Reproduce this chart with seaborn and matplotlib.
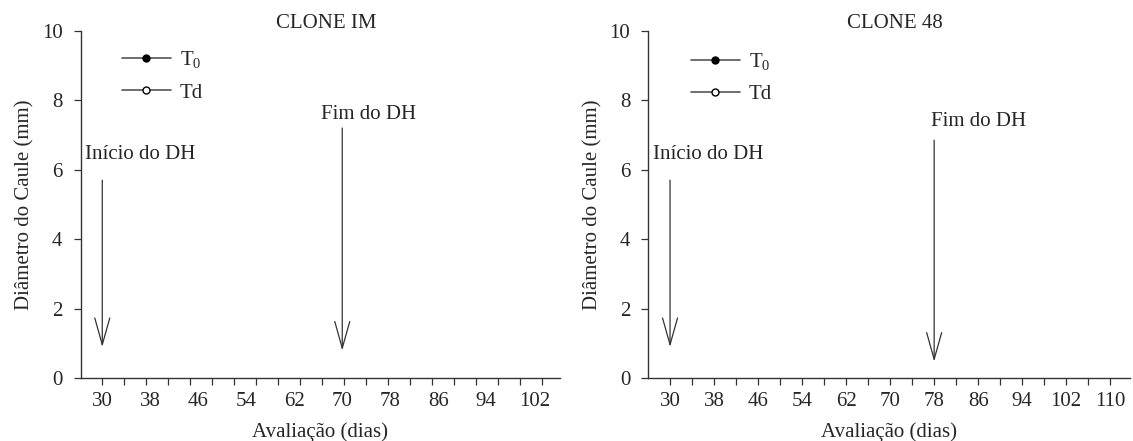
import numpy as np
import pandas as pd
import seaborn as sns
import matplotlib.pyplot as plt

# stem diameter chart, two clones -- no plotted points show in the source figure
sns.set_theme(style="ticks")
plt.rcParams['font.family'] = ['Liberation Serif', 'DejaVu Serif']
plt.rcParams['mathtext.default'] = 'regular'

panels = ['CLONE IM', 'CLONE 48']
days_im = [30, 38, 46, 54, 62, 70, 78, 86, 94, 102]
days_48 = [30, 38, 46, 54, 62, 70, 78, 86, 94, 102, 110]
series_names = ['T$_0$', 'Td']

# series values (nothing visible in the reference)
t0_im_x, t0_im_y = [], []
td_im_x, td_im_y = [], []
t0_48_x, t0_48_y = [], []
td_48_x, td_48_y = [], []

# drought (DH) start / end, in days
dh_start_im, dh_end_im = 30, 70
dh_start_48, dh_end_48 = 30, 78

FS = 15
GRAY = '#333333'

fig = plt.figure(figsize=(11.33, 4.41), dpi=100)
ax1 = fig.add_axes([0.0712, 0.1422, 0.4231, 0.7882])
ax2 = fig.add_axes([0.5722, 0.1422, 0.4252, 0.7882])


def style_axis(ax, days, xlim, step, title):
    ax.set_xlim(*xlim)
    ax.set_ylim(0, 10)
    ax.set_yticks([0, 2, 4, 6, 8, 10])
    ax.xaxis.remove_overlapping_locs = False
    # major ticks = tick marks, minor ticks = day labels
    ax.set_xticks(np.arange(days[0], xlim[1], step))
    ax.set_xticklabels([])
    ax.set_xticks(days, minor=True)
    ax.set_xticklabels([str(d) for d in days], minor=True)
    ax.tick_params(axis='x', which='minor', length=0, pad=10, labelsize=FS)
    ax.tick_params(axis='x', which='major', length=5, width=0.9, color=GRAY, direction='out')
    ax.tick_params(axis='y', length=5, width=0.9, color=GRAY, pad=8, labelsize=FS)
    for s in ['left', 'bottom']:
        ax.spines[s].set_color(GRAY)
        ax.spines[s].set_linewidth(1.0)
    sns.despine(ax=ax)
    ax.set_xlabel('Avaliação (dias)', fontsize=FS, labelpad=8)
    ax.set_ylabel('Diâmetro do Caule (mm)', fontsize=FS, labelpad=5)
    ax.text(0.512, 1.02, title, transform=ax.transAxes, ha='center', va='center', fontsize=FS)


def draw_arrow(ax, x, y_top, y_tip, label, tx, ty):
    ax.annotate('', xy=(x, y_tip), xytext=(x, y_top),
                arrowprops=dict(arrowstyle='->,head_length=1.6,head_width=0.45',
                                color=GRAY, lw=0.9, shrinkA=0, shrinkB=0))
    ax.text(tx, ty, label, ha='center', va='center', fontsize=FS)


def add_series(ax, t0x, t0y, tdx, tdy, anchor):
    h1, = ax.plot(t0x, t0y, color='#555555', lw=1.2, marker='o', ms=5,
                  mfc='black', mec='black')
    h2, = ax.plot(tdx, tdy, color='#555555', lw=1.2, marker='o', ms=5,
                  mfc='white', mec='black')
    ax.legend([h1, h2], series_names, loc='upper left', bbox_to_anchor=anchor,
              frameon=False, borderpad=0, borderaxespad=0, handlelength=2.35,
              handletextpad=0.45, labelspacing=0.6, fontsize=FS)


# left panel: labels 6 px per day, ticks every 22 px
style_axis(ax1, days_im, (26.4, 106.3), 11 / 3, panels[0])
add_series(ax1, t0_im_x, t0_im_y, td_im_x, td_im_y, (0.0855, 0.946))
draw_arrow(ax1, dh_start_im, 5.7, 0.9, 'Início do DH', 36.4, 6.45)
draw_arrow(ax1, dh_end_im, 7.2, 0.8, 'Fim do DH', 74.4, 7.6)

# right panel
style_axis(ax2, days_48, (26.05, 113.6), 4, panels[1])
add_series(ax2, t0_48_x, t0_48_y, td_48_x, td_48_y, (0.088, 0.942))
draw_arrow(ax2, dh_start_48, 5.7, 0.9, 'Início do DH', 36.9, 6.43)
draw_arrow(ax2, dh_end_48, 6.85, 0.48, 'Fim do DH', 86.0, 7.4)

fig.savefig('out.png', dpi=100)
